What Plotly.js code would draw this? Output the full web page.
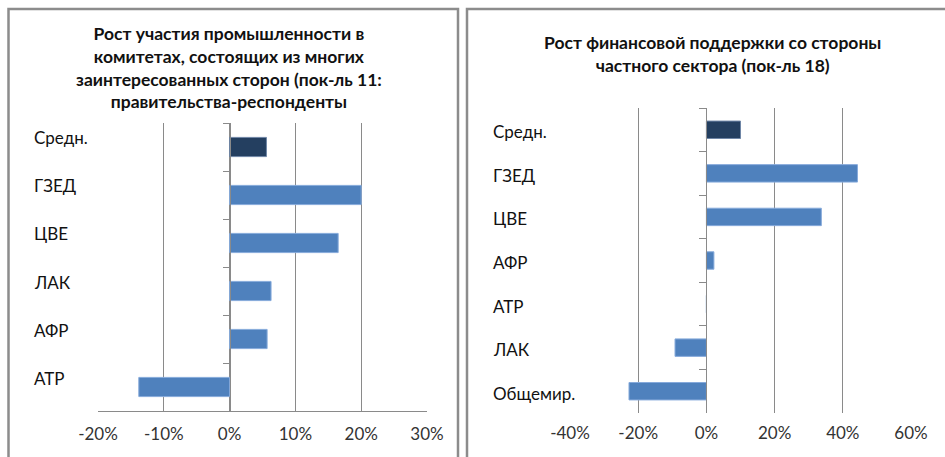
<!DOCTYPE html>
<html><head><meta charset="utf-8">
<script src="https://cdn.plot.ly/plotly-3.0.1.min.js"></script>
<style>html,body{margin:0;padding:0;background:#fff}#chart{width:945px;height:457px}</style>
</head><body><div id="chart"></div>
<script>
const leftCategories = ['Средн.', 'ГЗЕД', 'ЦВЕ', 'ЛАК', 'АФР', 'АТР'];
const leftValues = [5.6, 20.0, 16.5, 6.3, 5.7, -13.8];
const rightCategories = ['Средн.', 'ГЗЕД', 'ЦВЕ', 'АФР', 'АТР', 'ЛАК', 'Общемир.'];
const rightValues = [10.0, 44.3, 33.7, 2.2, 0, -9.2, -22.7];
const leftTicks = [-20, -10, 0, 10, 20, 30];
const rightTicks = [-40, -20, 0, 20, 40, 60];
const leftTitle = 'Рост участия промышленности в<br>комитетах, состоящих из многих<br>заинтересованных сторон (пок-ль 11:<br>правительства-респонденты';
const rightTitle = 'Рост финансовой поддержки со стороны<br>частного сектора (пок-ль 18)';

const W = 945, H = 457;
const NAVY = '#243F60', BLUE = '#4F81BD', GRID = '#8a8a8a', FONT = 'Lato, "Open Sans", sans-serif';
const px = v => v / W, py = v => 1 - v / H;
const colorsFor = cats => cats.map(c => c === 'Средн.' ? NAVY : BLUE);
const lineFor = cats => cats.map(c => c === 'Средн.' ? '#6f86a6' : '#86aadb');

const traces = [
  {type: 'bar', orientation: 'h', x: leftValues, y: leftCategories, xaxis: 'x', yaxis: 'y', width: 0.4,
   marker: {color: colorsFor(leftCategories), line: {color: lineFor(leftCategories), width: 1}}, hoverinfo: 'none'},
  {type: 'bar', orientation: 'h', x: rightValues, y: rightCategories, xaxis: 'x2', yaxis: 'y2', width: 0.4,
   marker: {color: colorsFor(rightCategories), line: {color: lineFor(rightCategories), width: 1}}, hoverinfo: 'none'}
];

const tickFont = {family: FONT, size: 17, color: '#333'};
const bold = t => '<b>' + t.split('<br>').join('</b><br><b>') + '</b>';
const layout = {
  width: W, height: H, margin: {l: 0, r: 0, t: 0, b: 0}, showlegend: false,
  paper_bgcolor: '#fff', plot_bgcolor: 'rgba(0,0,0,0)', font: {family: FONT, color: '#111'},
  xaxis: {domain: [px(98), px(427)], range: [-20, 30], anchor: 'y', tickmode: 'array', tickvals: leftTicks,
    ticktext: leftTicks.map(v => v + '%'), showgrid: true, gridcolor: GRID, gridwidth: 1, zeroline: false,
    showline: true, linecolor: GRID, linewidth: 1, ticks: 'inside', ticklen: 5, tickcolor: GRID, tickfont: tickFont,
    ticklabelstandoff: 8},
  yaxis: {domain: [py(411), py(123)], type: 'category', categoryarray: leftCategories, range: [leftCategories.length - 0.5, -0.5],
    anchor: 'free', position: px(230), showline: true, linecolor: GRID, linewidth: 1, ticks: 'outside', ticklen: 7,
    tickcolor: GRID, tickson: 'boundaries', showticklabels: false, showgrid: false, zeroline: false},
  xaxis2: {domain: [px(570), px(911)], range: [-40, 60], anchor: 'y2', tickmode: 'array', tickvals: rightTicks,
    ticktext: rightTicks.map(v => v + '%'), showgrid: true, gridcolor: GRID, gridwidth: 1, zeroline: false,
    showline: false, ticks: '', tickfont: tickFont, ticklabelstandoff: 8},
  yaxis2: {domain: [py(413), py(108)], type: 'category', categoryarray: rightCategories, range: [rightCategories.length - 0.5, -0.5],
    anchor: 'free', position: px(706), showline: true, linecolor: GRID, linewidth: 1, ticks: 'outside', ticklen: 7,
    tickcolor: GRID, tickson: 'boundaries', showticklabels: false, showgrid: false, zeroline: false},
  annotations: [
    {xref: 'paper', yref: 'paper', x: px(229), y: py(67), xanchor: 'center', yanchor: 'middle', showarrow: false,
     text: bold(leftTitle), font: {family: FONT, size: 17.5, color: '#111'}},
    {xref: 'paper', yref: 'paper', x: px(712), y: py(54), xanchor: 'center', yanchor: 'middle', showarrow: false,
     text: bold(rightTitle), font: {family: FONT, size: 17.5, color: '#111'}}
  ].concat(
    leftCategories.map(c => ({xref: 'paper', yref: 'y', x: px(32), y: c, xanchor: 'left', yanchor: 'middle', yshift: 9,
      showarrow: false, text: c, font: {family: FONT, size: 17, color: '#111'}})),
    rightCategories.map(c => ({xref: 'paper', yref: 'y2', x: px(491), y: c, xanchor: 'left', yanchor: 'middle', yshift: -2,
      showarrow: false, text: c, font: {family: FONT, size: 17, color: '#111'}}))
  ),
  shapes: [
    {type: 'path', xref: 'paper', yref: 'paper', path: `M ${px(8.5)},0 L ${px(8.5)},${py(9)} L ${px(458)},${py(9)} L ${px(458)},0`,
     line: {color: '#8c8c8c', width: 2.5}},
    {type: 'path', xref: 'paper', yref: 'paper', path: `M ${px(467)},0 L ${px(467)},${py(9)} L 1,${py(9)}`,
     line: {color: '#8c8c8c', width: 2.5}}
  ]
};
Plotly.newPlot('chart', traces, layout, {staticPlot: true, displayModeBar: false});
</script></body></html>
